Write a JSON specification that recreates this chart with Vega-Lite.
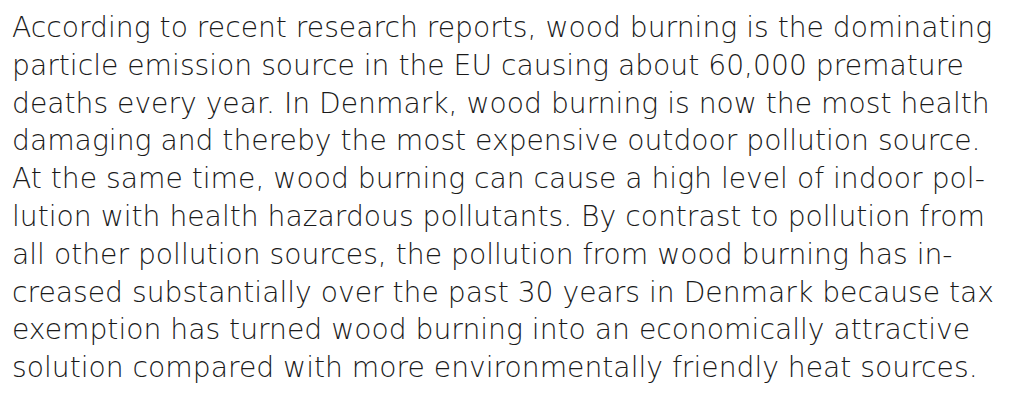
{
  "$schema": "https://vega.github.io/schema/vega-lite/v6.json",
  "width": 1021,
  "height": 401,
  "autosize": {"type": "fit", "contains": "padding"},
  "padding": 0,
  "background": "white",
  "config": {"view": {"stroke": null}},
  "data": {"values": [
    {"line": 1, "text": "According to recent research reports, wood burning is the dominating"},
    {"line": 2, "text": "particle emission source in the EU causing about 60,000 premature"},
    {"line": 3, "text": "deaths every year. In Denmark, wood burning is now the most health"},
    {"line": 4, "text": "damaging and thereby the most expensive outdoor pollution source."},
    {"line": 5, "text": "At the same time, wood burning can cause a high level of indoor pol-"},
    {"line": 6, "text": "lution with health hazardous pollutants. By contrast to pollution from"},
    {"line": 7, "text": "all other pollution sources, the pollution from wood burning has in-"},
    {"line": 8, "text": "creased substantially over the past 30 years in Denmark because tax"},
    {"line": 9, "text": "exemption has turned wood burning into an economically attractive"},
    {"line": 10, "text": "solution compared with more environmentally friendly heat sources."}
  ]},
  "mark": {"type": "text", "align": "left", "baseline": "alphabetic", "font": "DejaVu Sans", "fontWeight": 200, "fontSize": 28.2, "color": "#1a1a1a"},
  "encoding": {
    "x": {"value": 12},
    "y": {"field": "line", "type": "quantitative", "scale": {"domain": [0.02, 10.63], "reverse": true, "nice": false, "zero": false}, "axis": null},
    "text": {"field": "text"}
  }
}
